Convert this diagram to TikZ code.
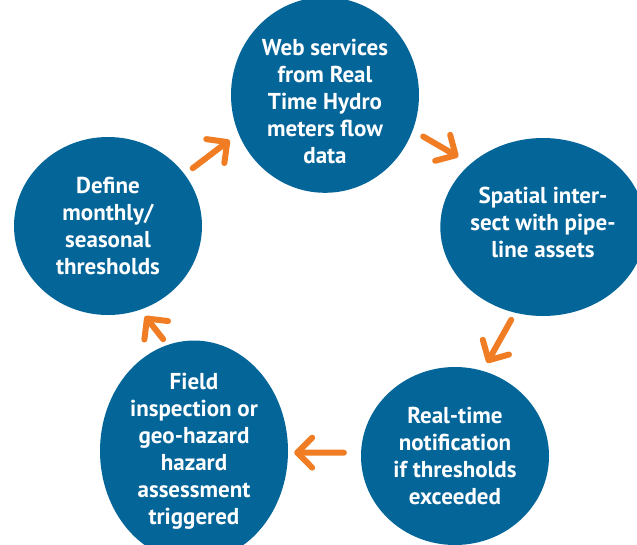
\documentclass[tikz,border=0pt]{standalone}
\usepackage{fontspec}
\setmainfont{PT Sans}
\usetikzlibrary{shapes.geometric,arrows.meta}
\definecolor{stageblue}{RGB}{4,101,153}
\definecolor{floworange}{RGB}{240,125,35}

\begin{document}
\begin{tikzpicture}[x=1pt,y=-1pt,
  stage/.style={ellipse,fill=stageblue,text=white,minimum width=188pt,minimum height=178pt,
    inner sep=0pt,align=center,font=\bfseries\fontsize{23}{27}\selectfont},
  flow/.style={draw=floworange,line width=6pt,line cap=round,
    -{Straight Barb[length=15pt,width=30pt,round]}}]
\useasboundingbox (0,0) rectangle (637,544);
\clip (0,0) rectangle (637,544);

\node[stage] (web) at (325,95) {\rule{0pt}{30pt}Web services\\from Real\\Time Hydro\\meters flow\\data};
\node[stage] (spatial) at (543,227) {Spatial inter-\\sect with pipe-\\line assets\rule[-10pt]{0pt}{10pt}};
\node[stage] (notify) at (455,456) {Real-time\\notification\\if thresholds\\exceeded};
\node[stage] (field) at (194,451) {Field\\inspection or\\geo-hazard\\hazard\\assessment\\triggered};
\node[stage] (define) at (108,226) {Define\\monthly/\\seasonal\\thresholds};

\draw[flow,shorten <=10pt,shorten >=11pt] (define.34) -- (web.204);
\draw[flow,shorten <=12pt,shorten >=14pt] (web.-22) -- (spatial.139);
\draw[flow,shorten <=8pt,shorten >=9pt] (spatial.252) -- (notify.72);
\draw[flow,shorten <=17pt,shorten >=6pt] (notify.178) -- (field.-1);
\draw[flow,shorten <=7pt,shorten >=8pt] (field.104) -- (define.-69);

\end{tikzpicture}
\end{document}
